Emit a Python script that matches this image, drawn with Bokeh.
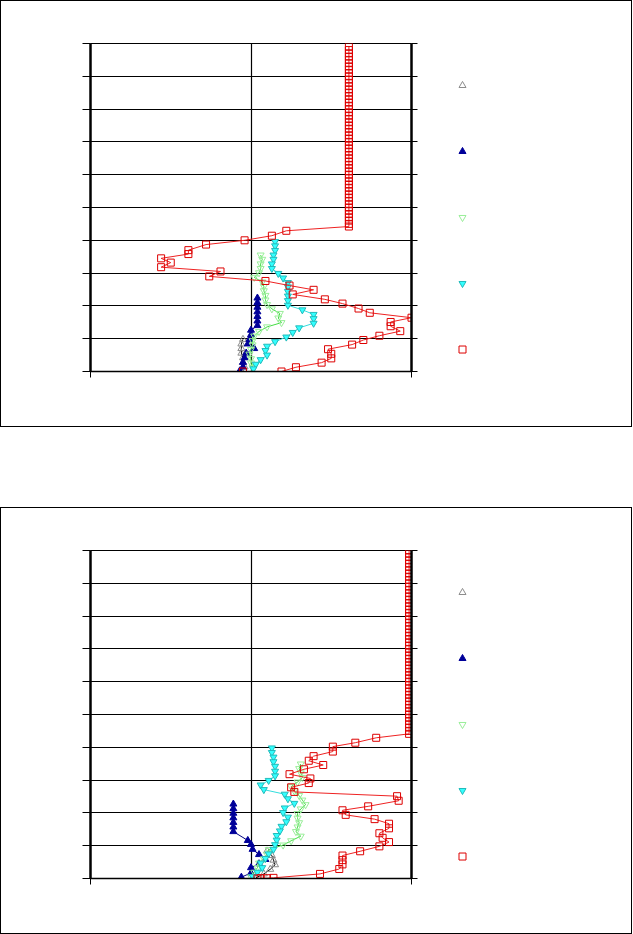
from bokeh.plotting import figure
from bokeh.models import (LinearAxis, FixedTicker, Range1d, FactorRange, Spacer, Grid)
from bokeh.layouts import column, row
from bokeh.embed import file_html
from bokeh.resources import INLINE

# ---------------- upper profile ----------------
A_gray_x = [-0.05, -0.06, -0.06, -0.06, -0.05, -0.05, -0.04, -0.06]
A_gray_y = [0.98, 0.84, 0.70, 0.56, 0.42, 0.28, 0.14, 0.02]

A_blue_x = [0.04, 0.04, 0.04, 0.04, 0.04, 0.04, 0.04, 0.00, 0.00, -0.01, -0.02,
            0.02, -0.03, -0.04, -0.05, -0.05, -0.07]
A_blue_y = [2.24, 2.10, 1.96, 1.82, 1.68, 1.54, 1.40, 1.26, 1.12, 0.98, 0.84,
            0.70, 0.56, 0.42, 0.28, 0.14, 0.02]

A_green_x = [0.06, 0.07, 0.06, 0.06, 0.05, 0.02, 0.07, 0.08, 0.08, 0.09, 0.09, 0.10, 0.13,
             0.18, 0.17, 0.19, 0.10, 0.05, 0.02, 0.01, 0.01, 0.00, -0.01, 0.00, 0.00, 0.01]
A_green_y = [3.55, 3.42, 3.28, 3.14, 3.01, 2.87, 2.73, 2.59, 2.46, 2.32, 2.18, 2.04, 1.91,
             1.77, 1.63, 1.49, 1.36, 1.22, 1.08, 0.94, 0.81, 0.67, 0.53, 0.39, 0.26, 0.12]

A_cyan_x = [0.15, 0.15, 0.15, 0.14, 0.14, 0.13, 0.13, 0.17, 0.20, 0.23, 0.23, 0.23, 0.23,
            0.23, 0.23, 0.32, 0.39, 0.39, 0.39, 0.30, 0.26, 0.22, 0.15, 0.10, 0.09, 0.10,
            0.06, 0.03, 0.015]
A_cyan_y = [3.96, 3.83, 3.69, 3.55, 3.42, 3.28, 3.14, 2.99, 2.85, 2.71, 2.58, 2.44, 2.30,
            2.16, 2.02, 1.88, 1.74, 1.61, 1.47, 1.33, 1.19, 1.05, 0.91, 0.77, 0.64, 0.50,
            0.36, 0.22, 0.08]

A_red_x = [0.61, 0.61, 0.61, 0.61, 0.61, 0.61, 0.61, 0.61, 0.61, 0.61, 0.61,
           0.61, 0.61, 0.61, 0.61, 0.61, 0.61, 0.61, 0.61, 0.61, 0.61, 0.61,
           0.61, 0.61, 0.61, 0.61, 0.61, 0.61, 0.61, 0.61, 0.61, 0.61, 0.61,
           0.61, 0.61, 0.61, 0.61, 0.61, 0.61, 0.61, 0.61, 0.61, 0.61, 0.61,
           0.61, 0.61, 0.61, 0.61, 0.61, 0.61, 0.61, 0.61, 0.61, 0.61, 0.61,
           0.61, 0.22, 0.13, -0.04, -0.28, -0.39, -0.39, -0.56, -0.50, -0.56, -0.19,
           -0.26, 0.09, 0.24, 0.39, 0.26, 0.46, 0.57, 0.67, 0.74, 1.00, 0.87,
           0.87, 0.93, 0.80, 0.70, 0.63, 0.48, 0.50, 0.50, 0.44, 0.28, 0.19, -0.05]
A_red_y = [9.9, 9.8, 9.7, 9.6, 9.5, 9.4, 9.3, 9.2, 9.1, 9.0, 8.9,
           8.8, 8.7, 8.6, 8.5, 8.4, 8.3, 8.2, 8.1, 8.0, 7.9, 7.8,
           7.7, 7.6, 7.5, 7.4, 7.3, 7.2, 7.1, 7.0, 6.9, 6.8, 6.7,
           6.6, 6.5, 6.4, 6.3, 6.2, 6.1, 6.0, 5.9, 5.8, 5.7, 5.6,
           5.5, 5.4, 5.3, 5.2, 5.1, 5.0, 4.9, 4.8, 4.7, 4.6, 4.5,
           4.42, 4.29, 4.14, 4.00, 3.87, 3.70, 3.58, 3.45, 3.32, 3.18, 3.05,
           2.90, 2.76, 2.62, 2.49, 2.35, 2.20, 2.07, 1.92, 1.79, 1.64, 1.51,
           1.38, 1.23, 1.09, 0.96, 0.82, 0.68, 0.54, 0.40, 0.27, 0.13, 0.00, 0.00]

# ---------------- lower profile ----------------
B_gray_x = [0.10, 0.13, 0.14, 0.15, 0.12, 0.08, 0.03]
B_gray_y = [0.84, 0.70, 0.56, 0.42, 0.28, 0.14, 0.02]

B_blue_x = [-0.11, -0.11, -0.11, -0.11, -0.11, -0.11, -0.11, -0.02, 0.00, 0.01,
            0.05, 0.09, 0.05, 0.00, 0.00, -0.06]
B_blue_y = [2.27, 2.13, 1.99, 1.85, 1.71, 1.57, 1.43, 1.16, 1.04, 0.89,
            0.73, 0.58, 0.45, 0.33, 0.17, 0.04]

B_green_x = [0.31, 0.30, 0.31, 0.32, 0.29, 0.25, 0.27, 0.30, 0.32, 0.34, 0.31, 0.29, 0.29,
             0.30, 0.29, 0.28, 0.31, 0.25, 0.20, 0.11, 0.10, 0.08, 0.05, 0.04, 0.02, 0.00]
B_green_y = [3.49, 3.35, 3.22, 3.08, 2.94, 2.80, 2.67, 2.53, 2.39, 2.25, 2.12, 1.98, 1.84,
             1.70, 1.57, 1.43, 1.29, 1.15, 1.02, 0.88, 0.74, 0.60, 0.47, 0.33, 0.19, 0.05]

B_cyan_x = [0.13, 0.13, 0.14, 0.14, 0.15, 0.15, 0.15, 0.11, 0.06, 0.08, 0.21, 0.23, 0.27,
            0.21, 0.20, 0.23, 0.22, 0.19, 0.18, 0.16, 0.16, 0.15, 0.14, 0.11, 0.09, 0.06,
            0.07, 0.04, 0.01]
B_cyan_y = [3.98, 3.84, 3.70, 3.56, 3.42, 3.27, 3.13, 2.99, 2.85, 2.71, 2.57, 2.43, 2.29,
            2.15, 2.01, 1.87, 1.73, 1.59, 1.45, 1.31, 1.17, 1.03, 0.89, 0.75, 0.61, 0.47,
            0.33, 0.19, 0.06]

B_red_x = [0.985, 0.985, 0.985, 0.985, 0.985, 0.985, 0.985, 0.985, 0.985, 0.985, 0.985,
           0.985, 0.985, 0.985, 0.985, 0.985, 0.985, 0.985, 0.985, 0.985, 0.985, 0.985,
           0.985, 0.985, 0.985, 0.985, 0.985, 0.985, 0.985, 0.985, 0.985, 0.985, 0.985,
           0.985, 0.985, 0.985, 0.985, 0.985, 0.985, 0.985, 0.985, 0.985, 0.985, 0.985,
           0.985, 0.985, 0.985, 0.985, 0.985, 0.985, 0.985, 0.985, 0.985, 0.985, 0.985,
           0.985, 0.985, 0.78, 0.65, 0.51, 0.51, 0.39, 0.36, 0.45, 0.33, 0.24, 0.37,
           0.36, 0.25, 0.27, 0.91, 0.92, 0.73, 0.57, 0.59, 0.77, 0.86, 0.86,
           0.80, 0.82, 0.86, 0.80, 0.68, 0.57, 0.57, 0.57, 0.55, 0.43, 0.14,
           0.10, 0.06, 0.04]
B_red_y = [10.0, 9.9, 9.8, 9.7, 9.6, 9.5, 9.4, 9.3, 9.2, 9.1, 9.0,
           8.9, 8.8, 8.7, 8.6, 8.5, 8.4, 8.3, 8.2, 8.1, 8.0, 7.9,
           7.8, 7.7, 7.6, 7.5, 7.4, 7.3, 7.2, 7.1, 7.0, 6.9, 6.8,
           6.7, 6.6, 6.5, 6.4, 6.3, 6.2, 6.1, 6.0, 5.9, 5.8, 5.7,
           5.6, 5.5, 5.4, 5.3, 5.2, 5.1, 5.0, 4.9, 4.8, 4.7, 4.6,
           4.5, 4.41, 4.29, 4.14, 4.02, 3.87, 3.73, 3.59, 3.46, 3.33, 3.18, 3.05,
           2.91, 2.78, 2.64, 2.51, 2.37, 2.20, 2.08, 1.94, 1.81, 1.67, 1.53,
           1.38, 1.24, 1.11, 0.98, 0.83, 0.70, 0.56, 0.43, 0.29, 0.14, 0.02,
           0.01, 0.01, 0.00]

Y_TICKS = [0, 1, 2, 3, 4, 5, 6, 7, 8, 9, 10]
X_TICKS = [-1, 1]
X_GRID = [0]
SERIES_ORDER = ["gray", "blue", "green", "cyan", "red"]   # key order, top to bottom
KEY_COLUMN = ["key"]

# style per series: (marker, fill, marker outline, line colour, size)
STYLES = {
    "gray":  ("triangle", None, "#8c8c8c", "#000000", 7),
    "blue":  ("triangle", "#000099", "#000099", "#000080", 7),
    "green": ("inverted_triangle", None, "#99ee99", "#44dd44", 7),
    "cyan":  ("inverted_triangle", "#33ffff", "#22bbbb", "#33dddd", 7),
    "red":   ("square", None, "#dd0000", "#ee2222", 7),
}


def blank_axis(axis, ticks, tick_out, width):
    axis.major_label_overrides = {t: "" for t in ticks}
    axis.major_label_text_font_size = "0px"
    axis.minor_tick_line_color = None
    axis.major_tick_in = 0
    axis.major_tick_out = tick_out
    axis.axis_line_color = "black"
    axis.axis_line_width = width
    axis.major_tick_line_color = "black"


def chart(series):
    p = figure(width=420, height=425, x_range=Range1d(-1, 1), y_range=Range1d(0, 10),
               output_backend="svg", toolbar_location=None,
               x_axis_location=None, y_axis_location=None,
               min_border_left=89, min_border_right=10,
               min_border_top=42, min_border_bottom=55)
    # drop the default grids; the chart uses its own
    p.center = [r for r in p.center if not isinstance(r, Grid)]
    p.outline_line_color = "black"
    p.outline_line_width = 1

    left = LinearAxis(ticker=FixedTicker(ticks=Y_TICKS))
    blank_axis(left, Y_TICKS, 8, 2.5)
    p.add_layout(left, "left")

    right = LinearAxis(ticker=FixedTicker(ticks=Y_TICKS))
    blank_axis(right, Y_TICKS, 6, 2.5)
    p.add_layout(right, "right")

    bottom = LinearAxis(ticker=FixedTicker(ticks=X_TICKS))
    blank_axis(bottom, X_TICKS, 6, 1.5)
    p.add_layout(bottom, "below")

    p.add_layout(Grid(dimension=1, ticker=FixedTicker(ticks=Y_TICKS),
                      grid_line_color="black", grid_line_width=1.2))
    p.add_layout(Grid(dimension=0, ticker=FixedTicker(ticks=X_GRID),
                      grid_line_color="black", grid_line_width=1.2))

    for name, xs, ys in series:
        marker, fill, edge, lc, size = STYLES[name]
        p.line(xs, ys, line_color=lc, line_width=1)
        p.scatter(xs, ys, marker=marker, size=size, fill_color=fill,
                  line_color=edge, line_width=1)
    return p


def key_box():
    # marker key: one row per series (row index counted from the top)
    k = figure(width=210, height=425,
               x_range=FactorRange(factors=KEY_COLUMN, range_padding=0),
               y_range=Range1d(start=4.333, end=-0.636),
               output_backend="svg", toolbar_location=None,
               x_axis_location=None, y_axis_location=None,
               min_border_left=0, min_border_right=128,
               min_border_top=42, min_border_bottom=55,
               outline_line_color=None)
    k.center = [r for r in k.center if not isinstance(r, Grid)]
    for i, name in enumerate(SERIES_ORDER):
        marker, fill, edge, lc, size = STYLES[name]
        k.scatter(x=KEY_COLUMN, y=[i], marker=marker, size=size,
                  fill_color=fill, line_color=edge, line_width=1)
    return k


def panel(series):
    return row(chart(series), key_box(), spacing=0,
               styles={"border": "1px solid black"})


p1 = panel([("gray", A_gray_x, A_gray_y), ("blue", A_blue_x, A_blue_y),
            ("green", A_green_x, A_green_y), ("cyan", A_cyan_x, A_cyan_y),
            ("red", A_red_x, A_red_y)])
p2 = panel([("gray", B_gray_x, B_gray_y), ("blue", B_blue_x, B_blue_y),
            ("green", B_green_x, B_green_y), ("cyan", B_cyan_x, B_cyan_y),
            ("red", B_red_x, B_red_y)])

layout = column(p1, Spacer(width=632, height=80), p2, spacing=0)
open("out.html", "w").write(file_html(layout, INLINE))
